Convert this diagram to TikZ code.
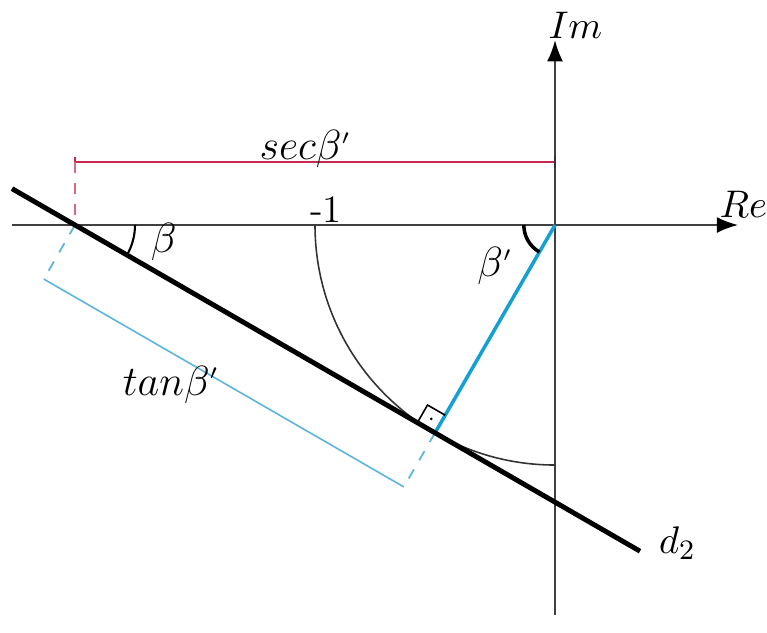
\documentclass[tikz,border=0pt]{standalone}
\usetikzlibrary{arrows.meta,calc}
\definecolor{secred}{RGB}{200,40,80}
\definecolor{perpblue}{RGB}{20,160,210}
\definecolor{dimblue}{RGB}{90,180,220}
\tikzset{
  axis/.style={draw=black!75,line width=0.5pt,-{Latex[length=6pt,width=4.5pt,color=black]}},
  dline/.style={line width=1.4pt,black},
  lbl/.style={inner sep=0pt},
}
\begin{document}
\begin{tikzpicture}[x=2.4cm,y=2.4cm]
\useasboundingbox (-2.3125,-1.6958) rectangle (0.8833,0.9375);
% points
\coordinate (O) at (0,0);
\coordinate (A) at (-2,0);          % intersection of d2 with Re axis
\coordinate (F) at (-0.5,-0.8660);  % foot of perpendicular
\coordinate (L1) at (-2.2625,0.1516);
\coordinate (L2) at (0.354,-1.3590);
\coordinate (P1) at ($(A)+(-0.13,-0.2252)$);
\coordinate (P2) at ($(F)+(-0.13,-0.2252)$);
\coordinate (S1) at (-2,0.2625);
\coordinate (S2) at (0,0.2625);
\coordinate (ReS) at (-2.2625,0);
\coordinate (ReE) at (0.7625,0);
\coordinate (ImS) at (0,-1.625);
\coordinate (ImE) at (0,0.77);
% axes
\draw[axis] (ReS) -- (ReE);
\draw[axis] (ImS) -- (ImE);
% unit circle arc
\draw[black!80,line width=0.45pt] (-1,0) arc[start angle=180,end angle=270,radius=1];
% sec dimension
\draw[secred,line width=0.45pt] (S1) -- (S2);
\draw[secred,line width=0.45pt] ($(S1)+(0,0.02)$) -- ($(S1)+(0,-0.02)$);
\draw[black!80,line width=0.5pt] ($(S2)+(0,0.025)$) -- ($(S2)+(0,-0.025)$);
\draw[secred!70,dashed,line width=0.5pt] (S1) -- (A);
% tan dimension
\draw[dimblue,line width=0.45pt] (P1) -- (P2);
\draw[dimblue,dashed,line width=0.5pt] (A) -- (P1);
\draw[dimblue,dashed,line width=0.5pt] (F) -- (P2);
% perpendicular
\draw[perpblue,line width=1pt] (O) -- (F);
% right angle mark
\draw[black,line width=0.45pt] ($(F)+(-0.0736,0.0425)$) -- ++(0.0425,0.0736) -- ++(0.0736,-0.0425);
\fill ($(F)+(-0.0156,0.0581)$) circle[radius=0.006];
% line d2
\draw[dline] (L1) -- (L2);
% angle arcs
\draw[black,line width=0.6pt] ($(A)+(0.25,0)$) arc[start angle=0,end angle=-30,radius=0.25];
\draw[black,line width=1pt] ($(O)+(-0.13,0)$) arc[start angle=180,end angle=240,radius=0.13];
% labels
\node[lbl] (im) at (0.085,0.83) {\fontsize{11}{12}\selectfont $Im$};
\node[lbl] (re) at (0.785,0.085) {\fontsize{11}{12}\selectfont $Re$};
\node[lbl] (m1) at (-0.955,0.065) {\fontsize{11}{12}\selectfont -1};
\node[lbl] (sec) at (-1.04,0.315) {\fontsize{13}{14}\selectfont $sec\beta^{\scriptscriptstyle\prime}$};
\node[lbl] (tan) at (-1.6,-0.665) {\fontsize{13}{14}\selectfont $tan\beta^{\scriptscriptstyle\prime}$};
\node[lbl] (b) at (-1.63,-0.07) {\fontsize{12}{13}\selectfont $\beta$};
\node[lbl] (bp) at (-0.25,-0.17) {\fontsize{12}{13}\selectfont $\beta^{\scriptscriptstyle\prime}$};
\node[lbl] (d2) at (0.51,-1.325) {\fontsize{11}{12}\selectfont $d_2$};
\end{tikzpicture}
\end{document}
